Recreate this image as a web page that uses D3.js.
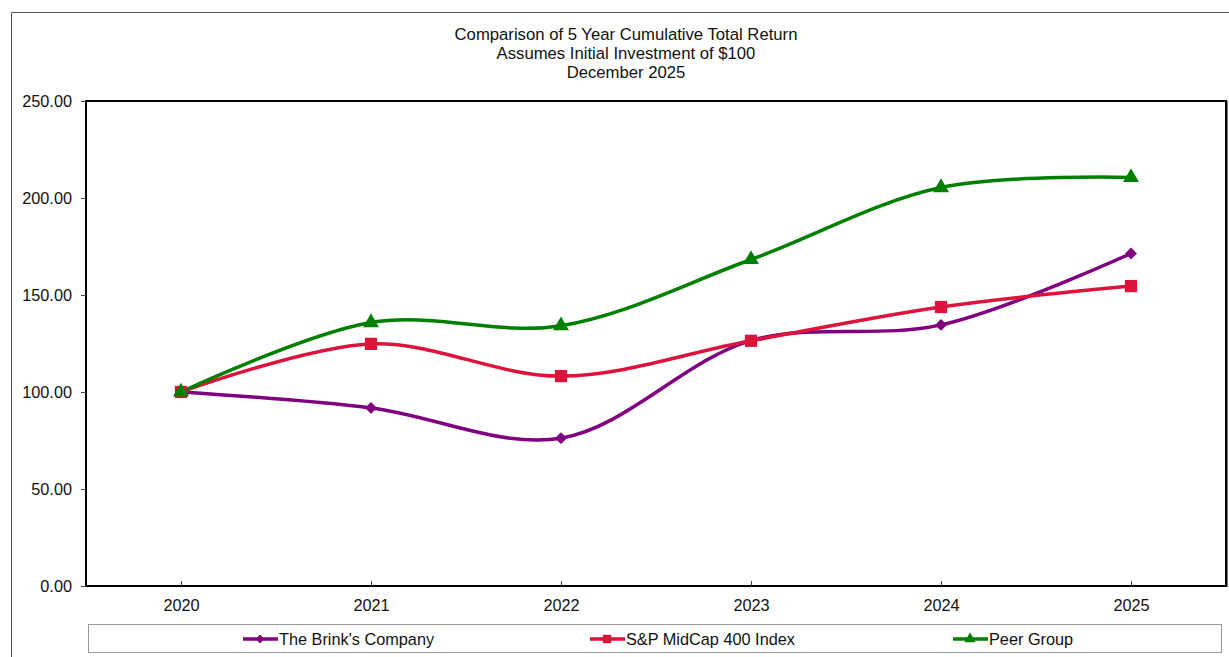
<!DOCTYPE html>
<html>
<head>
<meta charset="utf-8">
<script src="https://cdn.jsdelivr.net/npm/d3@7"></script>
<style>
  body { margin: 0; background: #fff; }
  svg { font-family: "Liberation Sans", Arial, sans-serif; }
</style>
</head>
<body>
<script>
// data
var years = ["2020", "2021", "2022", "2023", "2024", "2025"];
var brinks = [100, 91.8, 76.2, 126.5, 134.6, 171.4];
var midcap = [100, 124.8, 108.2, 126.4, 143.8, 154.6];
var peers = [100, 135.8, 134.2, 168.3, 205.4, 210.6];
var yTicks = [0, 50, 100, 150, 200, 250];
var titleLines = ["Comparison of 5 Year Cumulative Total Return", "Assumes Initial Investment of $100", "December 2025"];

var series = [
    { name: "The Brink's Company", values: brinks, color: "#800080", marker: "diamond" },
    { name: "S&P MidCap 400 Index", values: midcap, color: "#DC143C", marker: "square" },
    { name: "Peer Group", values: peers, color: "#008000", marker: "triangle" }
];

var width = 1229, height = 657;
var plotL = 86, plotR = 1226, plotT = 101, plotB = 586;
var fontSize = 16.3;

var svg = d3.select("body").append("svg").attr("width", width).attr("height", height);

// outer frame (only left and top edges visible in the picture)
svg.append("path").attr("d", "M11.5,657 V12.5 H1229")
    .attr("fill", "none").attr("stroke", "#555").attr("stroke-width", 1);

// title
svg.append("g").selectAll("text").data(titleLines).enter()
    .append("text")
    .attr("x", 626).attr("y", function (d, i) { return 40 + i * 19 })
    .attr("text-anchor", "middle").attr("font-size", 16.7).attr("fill", "#111")
    .text(function (d) { return d });

var x = d3.scalePoint().domain(years).range([plotL, plotR]).padding(0.5);
var y = d3.scaleLinear().domain([0, 250]).range([plotB, plotT]);

// plot box
svg.append("rect").attr("x", plotL).attr("y", plotT)
    .attr("width", plotR - plotL).attr("height", plotB - plotT)
    .attr("fill", "none").attr("stroke", "#000").attr("stroke-width", 2);
svg.append("line").attr("x1", plotR + 1.5).attr("x2", plotR + 1.5).attr("y1", plotT).attr("y2", plotB + 1)
    .attr("stroke", "#777").attr("stroke-width", 1);

// y axis
var yAxis = svg.append("g").attr("transform", "translate(" + plotL + ",0)")
    .call(d3.axisLeft(y).tickValues(yTicks).tickSize(5).tickPadding(9).tickFormat(d3.format(".2f")));
yAxis.select(".domain").remove();
yAxis.selectAll("text").attr("font-size", fontSize).attr("fill", "#111").attr("font-family", "Liberation Sans, Arial, sans-serif");
yAxis.selectAll("line").attr("stroke", "#444");

// x axis, ticks point into the plot
var xAxis = svg.append("g").attr("transform", "translate(0," + plotB + ")")
    .call(d3.axisBottom(x).tickSize(-5).tickPadding(13));
xAxis.select(".domain").remove();
xAxis.selectAll("text").attr("font-size", fontSize).attr("fill", "#111").attr("font-family", "Liberation Sans, Arial, sans-serif");
xAxis.selectAll("line").attr("stroke", "#444");

var line = d3.line()
    .x(function (d, i) { return x(years[i]) })
    .y(function (d) { return y(d) })
    .curve(d3.curveCatmullRom.alpha(0.5));

var symbols = {
    diamond: d3.symbol().type(d3.symbolDiamond2).size(90),
    square: d3.symbol().type(d3.symbolSquare).size(150),
    triangle: d3.symbol().type(d3.symbolTriangle).size(110)
};

series.forEach(function (s) {
    svg.append("path").datum(s.values)
        .attr("d", line)
        .attr("fill", "none").attr("stroke", s.color).attr("stroke-width", 3.5);
});

series.forEach(function (s) {
    svg.append("g").selectAll("path").data(s.values).enter()
        .append("path")
        .attr("d", symbols[s.marker])
        .attr("transform", function (d, i) { return "translate(" + x(years[i]) + "," + y(d) + ")" })
        .attr("fill", s.color);
});

// legend
svg.append("rect").attr("x", 88.5).attr("y", 624.5).attr("width", 1133).attr("height", 28)
    .attr("fill", "#fff").attr("stroke", "#999");

var legendX = [243, 590, 953];
var legend = svg.append("g").selectAll("g").data(series).enter()
    .append("g")
    .attr("transform", function (d, i) { return "translate(" + legendX[i] + ",639)" });
legend.append("line").attr("x1", 0).attr("x2", 35)
    .attr("stroke", function (d) { return d.color }).attr("stroke-width", 3.5);
legend.append("path")
    .attr("d", function (d) {
        var sz = { diamond: 50, square: 70, triangle: 55 }[d.marker];
        var t = { diamond: d3.symbolDiamond2, square: d3.symbolSquare, triangle: d3.symbolTriangle }[d.marker];
        return d3.symbol().type(t).size(sz)();
    })
    .attr("transform", "translate(17,0)")
    .attr("fill", function (d) { return d.color });
legend.append("text").attr("x", 36).attr("y", 6)
    .attr("font-size", fontSize).attr("fill", "#111")
    .text(function (d) { return d.name });
</script>
</body>
</html>
